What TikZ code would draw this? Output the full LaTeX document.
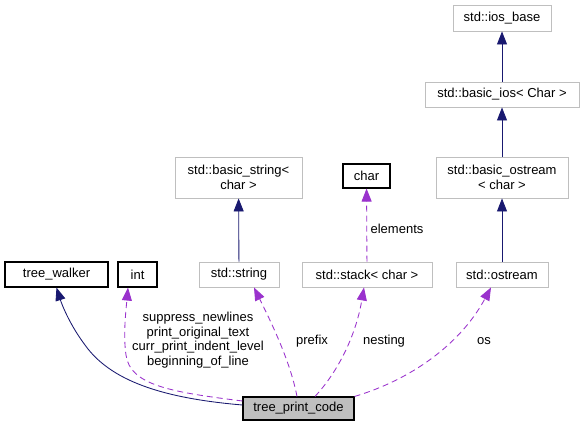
\documentclass[tikz,border=0pt]{standalone}
\usepackage{fontspec}
\setmainfont{Liberation Sans}
\usetikzlibrary{arrows.meta}
\definecolor{navy}{HTML}{191970}
\definecolor{purp}{HTML}{9A32CD}
\definecolor{greyb}{HTML}{BFBFBF}
\begin{document}
\begin{tikzpicture}[x=1pt,y=-1pt,
  font=\fontsize{13}{14.6}\selectfont,
  box/.style={draw=greyb,line width=0.9pt,fill=white,inner sep=0pt,align=center},
  bbox/.style={draw=black,line width=1.1pt,fill=white,inner sep=0pt,align=center},
  inh/.style={draw=navy,line width=0.85pt,-{Triangle[length=13pt,width=10pt]}},
  use/.style={draw=purp,line width=0.85pt,dash pattern=on 6pt off 4pt,-{Triangle[length=13pt,width=10pt,fill=purp]}},
  lbl/.style={inner sep=0pt,align=center}]
\useasboundingbox (0,0) rectangle (586,427);
\fill[white] (0,0) rectangle (586,427);
% nodes
\node[bbox,minimum width=103pt,minimum height=25pt] (walker) at (56.5,274.5) {tree\_walker};
\node[bbox,minimum width=39pt,minimum height=25pt] (int) at (137.5,274.5) {int};
\node[box,minimum width=80pt,minimum height=25pt] (str) at (239,274.5) {std::string};
\node[box,minimum width=130pt,minimum height=25pt] (stack) at (367,274.5) {std::stack\textless{} char \textgreater{}};
\node[box,minimum width=92pt,minimum height=25pt] (ostr) at (502,274.5) {std::ostream};
\node[draw=black,line width=1.1pt,fill=greyb,inner sep=0pt,minimum width=111pt,minimum height=23pt] (tpc) at (298.5,408.5) {tree\_print\_code};
\node[box,minimum width=127pt,minimum height=41pt] (bstr) at (238.5,177.5) {std::basic\_string\textless{}\\char \textgreater{}};
\node[bbox,minimum width=47pt,minimum height=24pt] (char) at (366.5,176) {char};
\node[box,minimum width=132pt,minimum height=41pt] (bostr) at (502,177.5) {std::basic\_ostream\\\textless{} char \textgreater{}};
\node[box,minimum width=154pt,minimum height=25pt] (bios) at (502,94.5) {std::basic\_ios\textless{} Char \textgreater{}};
\node[box,minimum width=98pt,minimum height=26pt] (iosb) at (502,18) {std::ios\_base};
% inheritance
\draw[inh] (bios) -- (iosb);
\draw[inh] (bostr) -- (bios);
\draw[inh] (ostr) -- (bostr);
\draw[inh] (str) -- (bstr);
\draw[inh] ([yshift=3.5pt]tpc.west) .. controls (160,398) and (110,380) .. (85,345) .. controls (70,325) and (62,305) .. (walker.south);
% usage
\draw[use] (stack) -- (char);
\draw[use] ([yshift=7.5pt]tpc.west) .. controls (170,392) and (130,385) .. (126,355) .. controls (123,335) and (126,310) .. ([xshift=-9.5pt]int.south);
\draw[use] ([xshift=-1.5pt]tpc.north) .. controls (290,360) and (270,320) .. ([xshift=15pt]str.south);
\draw[use] ([xshift=16.5pt]tpc.north) .. controls (335,375) and (355,340) .. ([xshift=-3pt]stack.south);
\draw[use] (tpc.north east) .. controls (410,380) and (460,345) .. ([xshift=-11pt]ostr.south);
% labels
\node[lbl] (l1) at (198,340) {suppress\_newlines\\print\_original\_text\\curr\_print\_indent\_level\\beginning\_of\_line};
\node[lbl] (l2) at (312,341) {prefix};
\node[lbl] (l3) at (384,341) {nesting};
\node[lbl] (l4) at (484,341) {os};
\node[lbl] (l5) at (397,229) {elements};
\end{tikzpicture}
\end{document}
